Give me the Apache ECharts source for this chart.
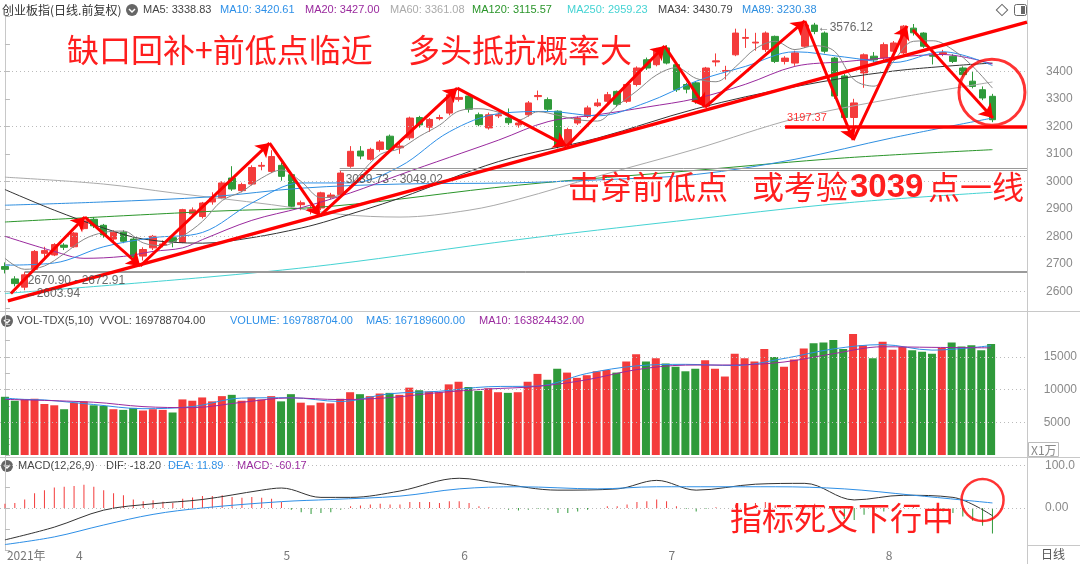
<!DOCTYPE html>
<html><head><meta charset="utf-8">
<script src="https://cdn.jsdelivr.net/npm/echarts@6/dist/echarts.min.js"></script>
<style>html,body{margin:0;padding:0;background:#fff}#c{width:1080px;height:564px}</style>
</head><body><div id="c"></div><script>
// ---------------- DATA ----------------
const dates = ['03-23','03-24','03-25','03-26','03-29','03-30','03-31',
'04-01','04-02','04-06','04-07','04-08','04-09','04-12','04-13','04-14','04-15','04-16','04-19','04-20','04-21','04-22','04-23','04-26','04-27','04-28','04-29','04-30',
'05-06','05-07','05-10','05-11','05-12','05-13','05-14','05-17','05-18','05-19','05-20','05-21','05-24','05-25','05-26','05-27','05-28','05-31',
'06-01','06-02','06-03','06-04','06-07','06-08','06-09','06-10','06-11','06-15','06-16','06-17','06-18','06-21','06-22','06-23','06-24','06-25','06-28','06-29','06-30',
'07-01','07-02','07-05','07-06','07-07','07-08','07-09','07-12','07-13','07-14','07-15','07-16','07-19','07-20','07-21','07-22','07-23','07-26','07-27','07-28','07-29','07-30',
'08-02','08-03','08-04','08-05','08-06','08-09','08-10','08-11','08-12','08-13','08-16','08-17'];
const opens = [2690,2645,2615,2680,2738,2732,2768,2762,2828,2862,
2840,2790,2815,2790,2728,2758,2768,2795,2778,2882,
2872,2925,2940,3012,2966,2990,3055,3036,3058,3024,
2915,2895,2903,2942,2952,3055,3110,3080,3116,3164,
3122,3158,3232,3197,3228,3248,3298,3310,3242,3194,
3238,3230,3205,3242,3308,3297,3255,3133,3212,3236,
3275,3291,3327,3291,3352,3442,3424,3485,3424,3352,
3358,3273,3434,3400,3460,3520,3503,3479,3527,3436,
3430,3491,3568,3539,3448,3383,3232,3394,3455,3448,
3473,3467,3557,3539,3458,3462,3455,3412,3364,3333,3309];
const closes = [2680,2628,2660,2745,2748,2770,2760,2812,2856,2838,
2805,2815,2782,2725,2752,2800,2772,2782,2897,2896,
2921,2940,2994,2972,2988,3050,3058,3090,3018,2909,
2922,2900,2958,2950,3030,3109,3092,3116,3143,3116,
3128,3230,3205,3225,3232,3315,3305,3262,3206,3242,
3242,3213,3212,3285,3312,3262,3127,3188,3230,3267,
3285,3315,3280,3352,3412,3412,3479,3430,3333,3335,
3291,3412,3438,3403,3539,3523,3506,3539,3436,3448,
3467,3568,3545,3473,3310,3232,3285,3460,3442,3497,
3503,3564,3540,3491,3455,3468,3436,3388,3345,3303,3224];
const lows = [2665,2618,2603.94,2672.91,2725,2728,2750,2758,2825,2830,
2795,2780,2775,2715,2712,2750,2760,2760,2775,2870,
2865,2915,2935,2965,2960,2985,3040,3030,3002,2905,
2895,2880,2895,2935,2948,3049.02,3080,3075,3108,3110,
3100,3150,3195,3180,3222,3240,3290,3250,3200,3188,
3230,3205,3195,3235,3295,3255,3120,3125,3205,3230,
3270,3285,3270,3285,3345,3405,3418,3425,3325,3320,
3282,3268,3418,3370,3455,3485,3475,3470,3430,3425,
3420,3485,3535,3465,3300,3225,3197.37,3340,3432,3440,
3465,3462,3530,3485,3425,3455,3430,3380,3338,3295,3215];
const highs = [2705,2655,2670.90,2750,2762,2775,2775,2816,2865,2870,
2845,2822,2822,2795,2760,2805,2785,2800,2900,2905,
2925,2960,3000,3055,2995,3058,3070,3113,3068,3030,
2930,2912,2962,2958,3039.73,3128,3128,3122,3150,3170,
3140,3235,3238,3230,3242,3320,3335,3318,3250,3250,
3250,3265,3225,3292,3330,3305,3258,3195,3236,3275,
3300,3325,3330,3356,3418,3450,3485,3495,3428,3358,
3362,3416,3465,3420,3555,3555,3540,3545,3530,3455,
3475,3572,3576.12,3545,3452,3390,3300,3465,3470,3505,
3510,3568,3572,3542,3462,3478,3462,3418,3400,3345,3318];
// volume, unit: 10k (万)
const volumes = [8900,8300,8500,8600,7800,7600,7000,8000,8200,7600,
7500,7000,6900,7200,6800,7000,6900,6500,8500,8300,
8800,8200,9000,9200,8300,8800,8500,9000,8200,9300,
8000,7600,8000,7900,8600,9600,9300,9000,9400,9500,
9200,10300,9900,9700,9600,10800,11200,10400,9800,10200,
9600,9500,9600,11200,12400,11500,13200,12600,11800,12200,
12800,13000,12600,14300,15400,14300,14800,14000,13500,12800,
13200,14500,13200,12000,15500,14800,14300,16200,15000,13500,
14600,16300,17100,17200,17600,16200,18500,16800,14800,17300,
16100,16500,16000,15800,15500,16400,17200,16600,16800,16016,16979];
// MACD histogram
const macdHist = [10,12,20,35,42,48,50,52,55,50,
42,35,30,20,16,18,15,12,22,25,
28,28,30,26,24,26,24,22,14,-4,
-10,-14,-12,-10,-4,4,6,8,10,8,
8,14,14,14,12,16,16,12,4,2,
0,-4,-6,-4,-2,-4,-12,-12,-8,-4,
0,4,4,8,14,16,20,16,4,-2,
-8,-2,2,0,8,12,12,14,6,2,
2,8,10,4,-14,-26,-28,-16,-14,-8,
-4,2,4,0,-6,-8,-12,-20,-30,-42,-60.17];
// moving-average lines: [day index, value]
const ma5 = [[0,2720],[2,2680],[4,2692],[6,2737],[8,2789],[10,2814],[12,2819],[14,2776],[16,2766],[18,2801],[20,2854],[22,2930],[24,2963],[26,3012],[28,3041],[30,2999],[32,2941],[34,2952],[36,3028],[38,3098],[40,3119],[42,3164],[44,3204],[46,3256],[48,3264],[50,3251],[52,3223],[54,3253],[56,3240],[58,3224],[60,3219],[62,3275],[64,3329],[66,3387],[68,3413],[70,3374],[72,3362],[74,3417],[76,3482],[78,3509],[80,3479],[82,3493],[84,3473],[86,3369],[88,3346],[90,3437],[92,3509],[94,3511],[96,3478],[98,3418],[100,3339]];
const ma10 = [[0,2695],[5,2703],[10,2762],[15,2795],[20,2814],[25,2921],[30,2994],[35,2994],[40,3054],[45,3180],[50,3246],[55,3254],[60,3238],[65,3287],[70,3364],[75,3418],[80,3471],[85,3452],[90,3432],[95,3471],[100,3421]];
const ma20 = [[0,2800],[5,2745],[8,2720],[12,2727],[15,2745],[18,2758],[20,2788],[25,2858],[30,2904],[35,2958],[40,3024],[45,3087],[50,3150],[55,3217],[60,3242],[65,3270],[70,3301],[75,3353],[80,3418],[85,3435],[90,3451],[95,3461],[100,3427]];
const ma60 = [[0,3015],[10,2990],[17,2958],[27,2915],[34,2880],[40,2870],[47,2895],[52,2935],[60,3018],[70,3118],[80,3228],[90,3301],[100,3361]];
const ma34 = [[0,2970],[5,2895],[10,2830],[14,2790],[20,2775],[25,2795],[30,2830],[33,2859],[40,2939],[50,3072],[60,3157],[70,3264],[80,3344],[90,3401],[100,3430]];
const ma89 = [[0,2913],[10,2925],[21,2944],[30,2975],[40,2990],[51,2994],[60,3005],[70,3025],[80,3080],[90,3159],[100,3230]];
const ma120 = [[0,2852],[21,2891],[33,2909],[52,2986],[70,3040],[85,3085],[100,3115]];
const ma250 = [[0,2592],[20,2650],[33,2697],[52,2788],[68,2855],[85,2921],[100,2960]];
const volMa5 = [[0,8700],[2,8500],[4,8420],[9,7720],[14,7080],[19,7400],[24,8700],[29,8760],[34,8180],[39,9360],[44,9740],[49,10440],[54,10540],[59,12460],[64,13620],[69,13860],[74,13680],[79,14760],[84,16220],[89,16880],[94,16040],[100,16719]];
const volMa10 = [[0,8500],[9,8070],[14,7400],[19,7240],[24,8050],[29,8730],[34,8470],[39,8770],[44,9550],[49,10090],[54,10490],[59,11500],[64,13040],[69,13740],[74,13770],[79,14220],[84,15490],[89,16550],[94,16460],[100,16382]];
const dif = [[0,-75],[5,-45],[10,-5],[15,10],[20,20],[26,42],[28,47],[32,25],[35,25],[40,40],[46,70],[50,58],[56,42],[62,45],[66,65],[70,42],[76,56],[81,58],[86,19],[91,30],[96,25],[100,-18.2]];
const dea = [[0,-86],[5,-68],[10,-40],[15,-15],[20,0],[28,15],[33,20],[40,28],[46,45],[52,50],[60,45],[66,50],[72,50],[78,50],[85,45],[92,30],[100,11.89]];
// hand-drawn annotations (day index, price)
const trendLine = [[0.3,2565],[103.5,3579]];
const arrows = [
 [[0.6,2592],[8.1,2870]],[[8.1,2870],[13.7,2692]],[[13.7,2692],[26.8,3139]],[[26.8,3139],[31.9,2874]],
 [[31.9,2874],[45.8,3339]],[[45.8,3339],[56.9,3128]],[[56.9,3128],[66.8,3492]],[[66.8,3492],[70.9,3270]],
 [[70.9,3270],[81.0,3583]],[[81.0,3583],[85.9,3150]],[[85.9,3150],[91.35,3565]],[[91.95,3550],[100.05,3230]]
];
const supportLine = [[79.0,3197.37],[103.5,3197.37]];
const gapLow = [[2,2670.90],[103.5,2670.90],[2,2672.91],[103.5,2672.91]];
const gapHigh = [[33.9,3039.73],[103.5,3039.73],[33.9,3049.02],[103.5,3049.02]];
const priceCircle = [99.95,3324];
const macdCircle = [99.0,19];
const priceNotes = [
 {value:[2.3,2637], name:'2670.90 - 2672.91'},
 {value:[2.0,2592], name:'←2603.94'},
 {value:[34.5,3005], name:'3039.73 - 3049.02'},
 {value:[82.3,3557], name:'←3576.12'}
];
const supportNote = {value:[79.2,3230], name:'3197.37'};

// ---------------- CHART ----------------
const RED = '#f43b3b', GREEN = '#2f9a3a';
const cats = dates.concat(['','','']);
const N = cats.length;
const W = 1027;
const chart = echarts.init(document.getElementById('c'), null, {renderer:'canvas'});
const upDown = closes.map((c,i)=> c >= opens[i]);
const lineS = (data, color, xi, yi, w) => ({type:'line', xAxisIndex:xi, yAxisIndex:yi, data, smooth:0.35, symbol:'none', silent:true, lineStyle:{color, width:w||1}, z:3, animation:false});
const dotted = vals => ({silent:true, symbol:['none','none'], label:{show:false}, lineStyle:{type:[1,3], color:'#bbb', width:1}, data: vals.map(v=>({yAxis:v})), animation:false});
const seg = (a,b) => [{coord:a},{coord:b}];
const FONT = 'Liberation Sans, Arial, sans-serif';
const CJK = 'Noto Sans CJK SC, sans-serif';
const H = '11px ' + FONT;

const option = {
 animation:false,
 backgroundColor:'#fff',
 grid:[
  {left:0, width:W, top:16.3, height:302.5},
  {left:0, width:W, top:291.5, height:163.5},
  {left:0, width:W, top:444.25, height:106.25},
  {left:0, width:W, top:545, height:19}
 ],
 xAxis:[
  {type:'category', gridIndex:0, data:cats, show:false},
  {type:'value', gridIndex:0, min:-0.5, max:N-0.5, show:false},
  {type:'category', gridIndex:1, data:cats, show:false},
  {type:'value', gridIndex:1, min:-0.5, max:N-0.5, show:false},
  {type:'category', gridIndex:2, data:cats, show:false},
  {type:'value', gridIndex:2, min:-0.5, max:N-0.5, show:false},
  {type:'category', gridIndex:3, data:cats, position:'top',
   axisLine:{show:true, lineStyle:{color:'#c8c8c8'}},
   axisTick:{show:true, alignWithLabel:true, inside:true, length:19, lineStyle:{color:'#c8c8c8'},
     interval:(i)=> i>0 && i<dates.length && dates[i].slice(0,2)!==dates[i-1].slice(0,2)},
   axisLabel:{inside:true, margin:4, align:'left', padding:[0,0,0,2], color:'#777', fontSize:12, fontFamily:CJK,
     interval:(i)=> i===0 || (i<dates.length && dates[i].slice(0,2)!==dates[i-1].slice(0,2)),
     formatter:(v,i)=> i===0 ? '2021年' : String(parseInt(v.slice(0,2),10))}}
 ],
 yAxis:[
  {type:'value', gridIndex:0, position:'right', min:2500, max:3600, interval:100,
   axisLine:{show:true, lineStyle:{color:'#c8c8c8'}}, axisTick:{show:true, length:5, lineStyle:{color:'#bbb'}},
   splitLine:{show:false},
   axisLabel:{color:'#8a8a8a', fontSize:12, fontFamily:FONT, margin:19, formatter:v=> (v>=2600&&v<=3400)? String(v):''}},
  {type:'value', gridIndex:1, position:'right', min:0, max:25000, interval:2500,
   axisLine:{show:true, lineStyle:{color:'#c8c8c8'}}, axisTick:{show:true, length:5, lineStyle:{color:'#bbb'}},
   splitLine:{show:false},
   axisLabel:{color:'#8a8a8a', fontSize:12, fontFamily:FONT, margin:18, formatter:v=> (v%5000===0 && v>=5000 && v<=15000)? String(v):''}},
  {type:'value', gridIndex:2, position:'right', min:-100, max:150, interval:50,
   axisLine:{show:true, lineStyle:{color:'#c8c8c8'}}, axisTick:{show:true, length:5, lineStyle:{color:'#bbb'}},
   splitLine:{show:false},
   axisLabel:{color:'#8a8a8a', fontSize:12, fontFamily:FONT, margin:18, formatter:v=> v===100?'100.0':(v===0?'0.00':'')}},
  {type:'value', gridIndex:3, show:false}
 ],
 series:[
  {type:'candlestick', xAxisIndex:0, yAxisIndex:0, barWidth:7, z:2,
   data: dates.map((d,i)=>[opens[i], closes[i], lows[i], highs[i]]),
   itemStyle:{color:RED, color0:GREEN, borderColor:RED, borderColor0:GREEN, borderWidth:1},
   markLine: dotted([2600,2800,3000,3200,3400])},
  lineS(ma60, '#aaaaaa', 1, 0),
  lineS(ma250, '#45d3d3', 1, 0),
  lineS(ma120, '#2a952a', 1, 0),
  lineS(ma89, '#2f8fe0', 1, 0),
  lineS(ma34, '#333333', 1, 0),
  lineS(ma20, '#9a2a9e', 1, 0),
  lineS(ma10, '#2e90e8', 1, 0),
  lineS(ma5, '#888888', 1, 0),
  // gap lines
  {type:'line', xAxisIndex:1, yAxisIndex:0, data:[], silent:true, z:3,
   markLine:{silent:true, symbol:['none','none'], label:{show:false}, lineStyle:{type:'solid', color:'#9a9a9a', width:1},
    data:[seg(gapLow[0],gapLow[1]), seg(gapLow[2],gapLow[3]), seg(gapHigh[0],gapHigh[1]), seg(gapHigh[2],gapHigh[3])]}},
  // red annotations
  {type:'scatter', xAxisIndex:1, yAxisIndex:0, z:10, silent:true,
   data:[priceCircle], symbol:'circle', symbolSize:66,
   itemStyle:{color:'rgba(0,0,0,0)', borderColor:'#f00', borderWidth:3},
   markLine:{silent:true, symbol:['none','none'], label:{show:false}, lineStyle:{type:'solid', color:'#f00', width:3.5},
    data:[seg(trendLine[0],trendLine[1]), seg(supportLine[0],supportLine[1])]}},
  {type:'line', xAxisIndex:1, yAxisIndex:0, data:[], z:11, silent:true,
   markLine:{silent:true, symbol:['none','arrow'], symbolSize:13, label:{show:false},
    lineStyle:{type:'solid', color:'#f00', width:3},
    data: arrows.map(a=>seg(a[0],a[1]))}},
  // notes
  {type:'scatter', xAxisIndex:1, yAxisIndex:0, z:12, silent:true, symbolSize:0,
   data: priceNotes,
   label:{show:true, position:'right', distance:0, formatter:'{b}', color:'#444', fontSize:12, fontFamily:FONT}},
  {type:'scatter', xAxisIndex:1, yAxisIndex:0, z:12, silent:true, symbolSize:0,
   data: [supportNote],
   label:{show:true, position:'right', distance:0, formatter:'{b}', color:'#f00', fontSize:11, fontFamily:FONT}},
  // volume
  {type:'bar', xAxisIndex:2, yAxisIndex:1, barWidth:8, z:2,
   data: volumes.map((v,i)=>({value:v, itemStyle:{color: upDown[i]?RED:GREEN}})),
   markLine: dotted([5000,10000,15000])},
  lineS(volMa5, '#2e8fe6', 3, 1),
  lineS(volMa10, '#9a2a9e', 3, 1),
  // macd
  {type:'bar', xAxisIndex:4, yAxisIndex:2, barWidth:1, z:2,
   data: macdHist.map(v=>({value:v, itemStyle:{color: v>=0?RED:GREEN}})),
   markLine: dotted([0,100])},
  lineS(dif, '#333333', 5, 2),
  lineS(dea, '#2e8fe6', 5, 2),
  {type:'scatter', xAxisIndex:5, yAxisIndex:2, z:10, silent:true,
   data:[macdCircle], symbol:'circle', symbolSize:42,
   itemStyle:{color:'rgba(0,0,0,0)', borderColor:'#f00', borderWidth:2.5}}
 ],
 graphic:[
  // frame lines
  {type:'line', shape:{x1:1027.5,y1:0,x2:1027.5,y2:564}, style:{stroke:'#c8c8c8', lineWidth:1}, silent:true},
  {type:'line', shape:{x1:0,y1:311.5,x2:1080,y2:311.5}, style:{stroke:'#c8c8c8', lineWidth:1}, silent:true},
  {type:'line', shape:{x1:0,y1:457.5,x2:1080,y2:457.5}, style:{stroke:'#c8c8c8', lineWidth:1}, silent:true},
  {type:'line', shape:{x1:1027,y1:545.5,x2:1080,y2:545.5}, style:{stroke:'#c8c8c8', lineWidth:1}, silent:true},
  // header
  {type:'text', x:2, y:10, style:{text:'创业板指(日线.前复权)', fill:'#333', font:'12px '+CJK, verticalAlign:'middle'}},
  {type:'circle', shape:{cx:132, cy:10, r:6}, style:{fill:'#666'}},
  {type:'polyline', shape:{points:[[129,9],[132,12],[135,9]]}, style:{stroke:'#fff', lineWidth:1.5, fill:null}},
  {type:'text', x:143, y:10, style:{text:'MA5: 3338.83', fill:'#444', font:H, verticalAlign:'middle'}},
  {type:'text', x:220, y:10, style:{text:'MA10: 3420.61', fill:'#2e90e8', font:H, verticalAlign:'middle'}},
  {type:'text', x:305, y:10, style:{text:'MA20: 3427.00', fill:'#9a2a9e', font:H, verticalAlign:'middle'}},
  {type:'text', x:390, y:10, style:{text:'MA60: 3361.08', fill:'#aaa', font:H, verticalAlign:'middle'}},
  {type:'text', x:472, y:10, style:{text:'MA120: 3115.57', fill:'#2a952a', font:H, verticalAlign:'middle'}},
  {type:'text', x:567, y:10, style:{text:'MA250: 2959.23', fill:'#45d3d3', font:H, verticalAlign:'middle'}},
  {type:'text', x:658, y:10, style:{text:'MA34: 3430.79', fill:'#444', font:H, verticalAlign:'middle'}},
  {type:'text', x:742, y:10, style:{text:'MA89: 3230.38', fill:'#2f8fe0', font:H, verticalAlign:'middle'}},
  {type:'rect', shape:{x:998, y:6, width:8, height:8}, rotation:Math.PI/4, originX:1002, originY:10, style:{fill:'#fff', stroke:'#666', lineWidth:1}},
  {type:'rect', shape:{x:1014.5, y:4.5, width:12, height:11, r:2}, style:{fill:'#fff', stroke:'#666', lineWidth:1}},
  {type:'rect', shape:{x:1021, y:6, width:4, height:8}, style:{fill:'#666'}},
  // volume header
  {type:'circle', shape:{cx:7, cy:321, r:6}, style:{fill:'#666'}},
  {type:'polyline', shape:{points:[[4,320],[7,323],[10,320]]}, style:{stroke:'#fff', lineWidth:1.5, fill:null}},
  {type:'text', x:17, y:321, style:{text:'VOL-TDX(5,10)  VVOL: 169788704.00', fill:'#444', font:H, verticalAlign:'middle'}},
  {type:'text', x:230, y:321, style:{text:'VOLUME: 169788704.00', fill:'#2e90e8', font:H, verticalAlign:'middle'}},
  {type:'text', x:366, y:321, style:{text:'MA5: 167189600.00', fill:'#2e90e8', font:H, verticalAlign:'middle'}},
  {type:'text', x:479, y:321, style:{text:'MA10: 163824432.00', fill:'#9a2a9e', font:H, verticalAlign:'middle'}},
  {type:'rect', shape:{x:1028.5, y:442.5, width:30, height:14}, style:{fill:'#fff', stroke:'#bbb', lineWidth:1}},
  {type:'text', x:1031, y:450, style:{text:'X1万', fill:'#888', font:'12px '+CJK, verticalAlign:'middle'}},
  // macd header
  {type:'circle', shape:{cx:7, cy:466, r:6}, style:{fill:'#666'}},
  {type:'polyline', shape:{points:[[4,465],[7,468],[10,465]]}, style:{stroke:'#fff', lineWidth:1.5, fill:null}},
  {type:'text', x:18, y:466, style:{text:'MACD(12,26,9)', fill:'#444', font:H, verticalAlign:'middle'}},
  {type:'text', x:106, y:466, style:{text:'DIF: -18.20', fill:'#444', font:H, verticalAlign:'middle'}},
  {type:'text', x:168, y:466, style:{text:'DEA: 11.89', fill:'#2e90e8', font:H, verticalAlign:'middle'}},
  {type:'text', x:237, y:466, style:{text:'MACD: -60.17', fill:'#9a2a9e', font:H, verticalAlign:'middle'}},
  // date strip right
  {type:'text', x:1041, y:554, style:{text:'日线', fill:'#555', font:'12px '+CJK, verticalAlign:'middle'}},
  // annotation texts
  {type:'text', x:67, y:50, z:20, style:{text:'缺口回补+前低点临近', fill:'#ff1e1e', font:'32px '+CJK, verticalAlign:'middle'}},
  {type:'text', x:408, y:50, z:20, style:{text:'多头抵抗概率大', fill:'#ff1e1e', font:'32px '+CJK, verticalAlign:'middle'}},
  {type:'text', x:568, y:187, z:20, style:{text:'击穿前低点', fill:'#ff1e1e', font:'32px '+CJK, verticalAlign:'middle'}},
  {type:'text', x:752, y:187, z:20, style:{text:'或考验', fill:'#ff1e1e', font:'32px '+CJK, verticalAlign:'middle'}},
  {type:'text', x:850, y:188, z:20, style:{text:'3039', fill:'#ff1e1e', font:'bold 33px '+FONT, verticalAlign:'middle'}},
  {type:'text', x:928, y:187, z:20, style:{text:'点一线', fill:'#ff1e1e', font:'32px '+CJK, verticalAlign:'middle'}},
  {type:'text', x:730, y:518, z:20, style:{text:'指标死叉下行中', fill:'#ff1e1e', font:'32px '+CJK, verticalAlign:'middle'}}
 ]
};
chart.setOption(option);
</script></body></html>
